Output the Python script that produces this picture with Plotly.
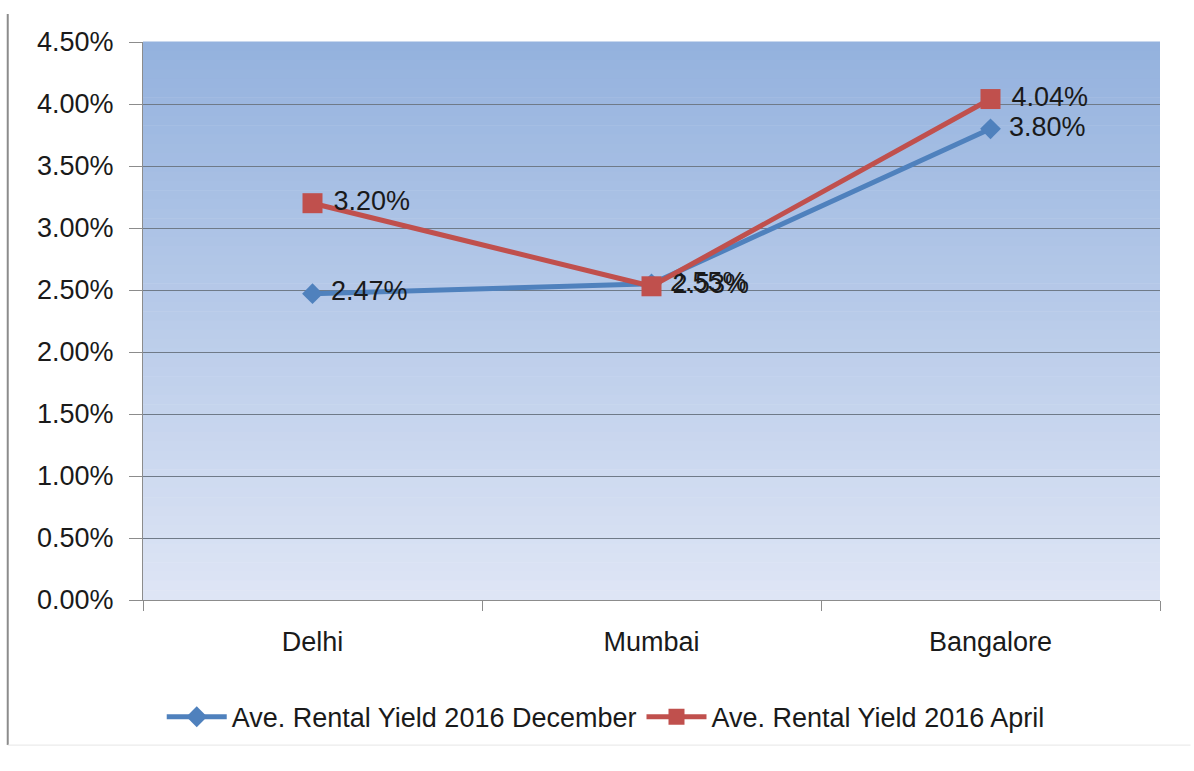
import plotly.graph_objects as go

categories = ["Delhi", "Mumbai", "Bangalore"]
dec_values = [0.0247, 0.0255, 0.0380]
apr_values = [0.0320, 0.0253, 0.0404]
dec_name = "Ave. Rental Yield 2016 December"
apr_name = "Ave. Rental Yield 2016 April"
y_ticks = [0, 0.005, 0.01, 0.015, 0.02, 0.025, 0.03, 0.035, 0.04, 0.045]

FONT = "Liberation Sans"
TXT = "#1a1a1a"
FS = 27

fig = go.Figure()
fig.add_trace(go.Scatter(
    x=categories, y=dec_values, name=dec_name, mode="lines+markers+text",
    line=dict(color="#4f81bd", width=5),
    marker=dict(symbol="diamond", size=16, color="#4f81bd"),
    text=[f"\u00a0{v*100:.2f}%" for v in dec_values], textposition="middle right",
    textfont=dict(family=FONT, size=FS, color=TXT), cliponaxis=False,
))
fig.add_trace(go.Scatter(
    x=categories, y=apr_values, name=apr_name, mode="lines+markers+text",
    line=dict(color="#c0504d", width=5),
    marker=dict(symbol="square", size=20, color="#c0504d"),
    text=[f"\u00a0{v*100:.2f}%" for v in apr_values], textposition="middle right",
    textfont=dict(family=FONT, size=FS, color=TXT), cliponaxis=False,
))

# gradient plot background
shapes = []
n = 60
top = (148, 178, 222)
bot = (222, 229, 245)
for i in range(n):
    t = i / (n - 1)
    c = tuple(round(top[k] + (bot[k] - top[k]) * t) for k in range(3))
    shapes.append(dict(type="rect", xref="x domain", yref="y domain",
                       x0=0, x1=1, y0=1 - (i + 1) / n, y1=1 - i / n + 0.001,
                       fillcolor=f"rgb{c}", line=dict(width=0), layer="below"))
# outer chart frame (left edge)
shapes.append(dict(type="line", xref="paper", yref="paper",
                   x0=-0.133, x1=-0.133, y0=-0.26, y1=1.05,
                   line=dict(color="#8c8c8c", width=2)))
shapes.append(dict(type="line", xref="paper", yref="paper",
                   x0=-0.133, x1=1.03, y0=-0.26, y1=-0.26,
                   line=dict(color="#e6e6e6", width=1)))

fig.update_layout(
    width=1194, height=771,
    margin=dict(l=143, r=34, t=42, b=171),
    paper_bgcolor="white", plot_bgcolor="rgba(0,0,0,0)",
    shapes=shapes,
    showlegend=True,
    legend=dict(orientation="h", x=0.455, xanchor="center", y=-0.21, yanchor="middle",
                font=dict(family=FONT, size=FS, color=TXT), itemwidth=60,
                traceorder="normal"),
    font=dict(family=FONT, size=FS, color=TXT),
)
fig.update_xaxes(type="category", range=[-0.5, 2.5], showgrid=False,
                 showline=True, linecolor="#8c8c8c", linewidth=1,
                 ticks="outside", tickson="boundaries", ticklen=10, tickcolor="#8c8c8c",
                 ticklabelstandoff=18,
                 tickfont=dict(family=FONT, size=FS, color=TXT))
fig.update_yaxes(range=[0, 0.045], tickvals=y_ticks, tickformat=".2%",
                 showgrid=True, gridcolor="#6f7a88", gridwidth=1,
                 showline=True, linecolor="#8c8c8c", linewidth=1,
                 ticks="outside", ticklen=13, tickcolor="#8c8c8c",
                 ticklabelstandoff=10,
                 zeroline=False,
                 tickfont=dict(family=FONT, size=FS, color=TXT))

fig.write_html("out.html")
